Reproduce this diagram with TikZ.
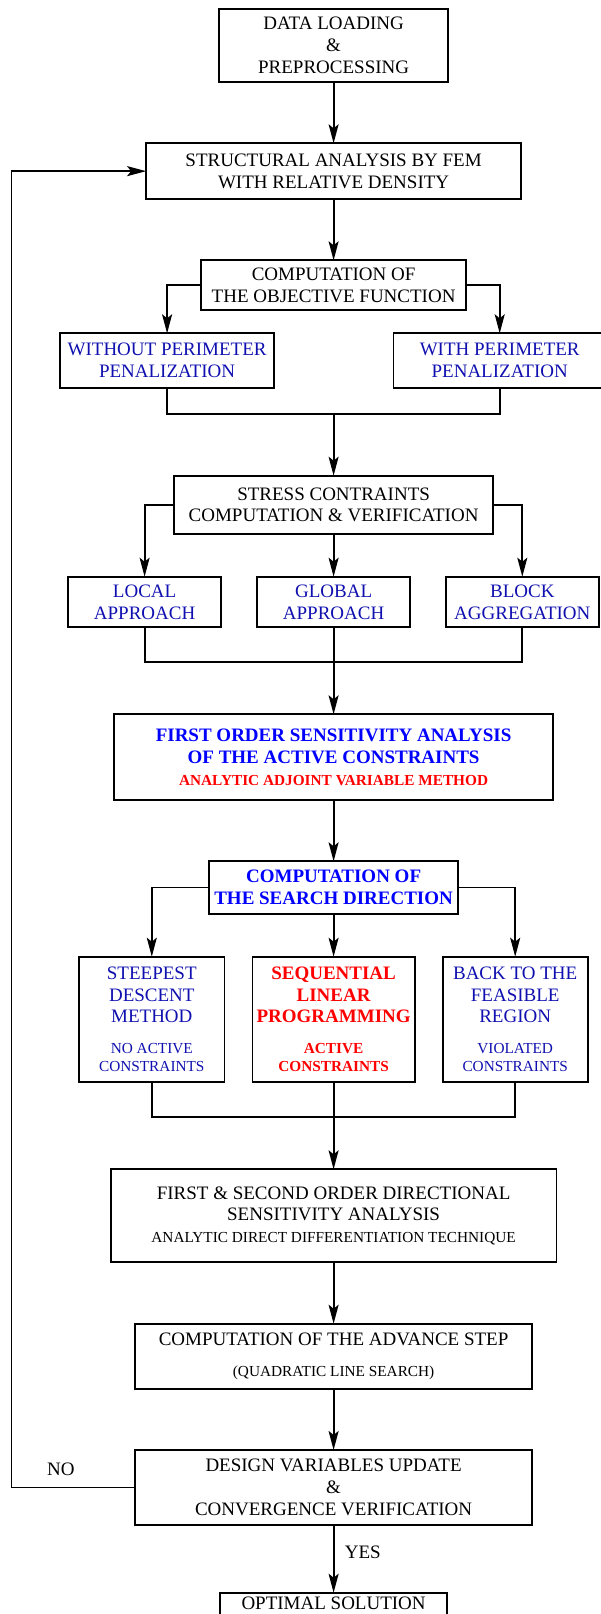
\documentclass[tikz,border=0pt]{standalone}
\usepackage{fontspec}
\setmainfont{Liberation Serif}
\usepackage{tikz}
\usetikzlibrary{arrows.meta,positioning,calc}

\definecolor{txtblue}{RGB}{16,16,176}
\newcommand{\smtxt}{\fontsize{15.3pt}{18.3pt}\selectfont}

\begin{document}
\begin{tikzpicture}[node distance=61.3pt, line width=1.8pt,
    >={Stealth[length=19pt,width=10pt,inset=4pt]},
    box/.style={rectangle, draw, align=center, inner sep=2pt, outer sep=0pt, font=\fontsize{19pt}{21.7pt}\selectfont},
    bluebox/.style={box, text=txtblue},
    boldbox/.style={box, text=blue, font=\fontsize{19pt}{21.7pt}\selectfont\bfseries},
    redbox/.style={box, text=red, font=\fontsize{19pt}{21.7pt}\selectfont\bfseries},
    lbl/.style={font=\fontsize{19pt}{21.7pt}\selectfont},
    ar/.style={->}]
    \useasboundingbox (0,0) rectangle (600pt,-1614pt);

    \node [box, minimum width=229pt, minimum height=73pt] (data) at (333.6pt,-45.5pt) {DATA LOADING\\ \&\\ PREPROCESSING};
    \node [box, below=of data, minimum width=375pt, minimum height=55.7pt] (fem) {STRUCTURAL ANALYSIS BY FEM\\ WITH RELATIVE DENSITY};
    \node [box, below=of fem, minimum width=264.5pt, minimum height=49.4pt] (obj) {COMPUTATION OF\\ THE OBJECTIVE FUNCTION};
    \node [bluebox, below=23.6pt of obj, xshift=-166.5pt, minimum width=214pt, minimum height=54.4pt] (wout) {WITHOUT PERIMETER\\ PENALIZATION};
    \node [bluebox, below=23.6pt of obj, xshift=166.1pt, minimum width=212.6pt, minimum height=54.4pt] (wpen) {WITH PERIMETER\\ PENALIZATION};
    \node [box, below=166pt of obj, minimum width=318.8pt, minimum height=58.3pt] (stress) {STRESS CONTRAINTS\\ COMPUTATION \& VERIFICATION};
    \node [bluebox, below=42.7pt of stress, minimum width=153pt, minimum height=50.6pt] (glob) {GLOBAL\\ APPROACH};
    \node [bluebox, below=42.7pt of stress, xshift=-189pt, minimum width=153pt, minimum height=50.6pt] (local) {LOCAL\\ APPROACH};
    \node [bluebox, below=42.7pt of stress, xshift=188.7pt, minimum width=153pt, minimum height=50.6pt] (block) {BLOCK\\ AGGREGATION};
    \node [boldbox, below=87pt of glob, minimum width=439.4pt, minimum height=85.7pt] (first) {FIRST ORDER SENSITIVITY ANALYSIS\\ OF THE ACTIVE CONSTRAINTS\\ {\color{red}\smtxt ANALYTIC ADJOINT VARIABLE METHOD}};
    \node [boldbox, below=of first, minimum width=248.8pt, minimum height=52.4pt] (search) {COMPUTATION OF\\ THE SEARCH DIRECTION};
    \node [redbox, below=43pt of search, minimum width=162.2pt, minimum height=125.6pt] (seq) {SEQUENTIAL\\ LINEAR\\ PROGRAMMING\\[9pt] {\smtxt ACTIVE}\\[-3.4pt] {\smtxt CONSTRAINTS}};
    \node [bluebox, below=43pt of search, xshift=-181.8pt, minimum width=145.4pt, minimum height=125.6pt] (steep) {STEEPEST\\ DESCENT\\ METHOD\\[9pt] {\smtxt NO ACTIVE}\\[-3.4pt] {\smtxt CONSTRAINTS}};
    \node [bluebox, below=43pt of search, xshift=181.6pt, minimum width=145pt, minimum height=125.6pt] (back) {BACK TO THE\\ FEASIBLE\\ REGION\\[9pt] {\smtxt VIOLATED}\\[-3.4pt] {\smtxt CONSTRAINTS}};
    \node [box, below=87pt of seq, minimum width=445.8pt, minimum height=92.7pt] (second) {FIRST \& SECOND ORDER DIRECTIONAL\\ SENSITIVITY ANALYSIS\\ {\smtxt ANALYTIC DIRECT DIFFERENTIATION TECHNIQUE}};
    \node [box, below=61.7pt of second, minimum width=397pt, minimum height=65.3pt] (adv) {COMPUTATION OF THE ADVANCE STEP\\[9.7pt] {\smtxt (QUADRATIC LINE SEARCH)}};
    \node [box, below=61pt of adv, minimum width=397pt, minimum height=75pt] (design) {DESIGN VARIABLES UPDATE\\ \&\\ CONVERGENCE VERIFICATION};
    \node [box, below=67.7pt of design, minimum width=227pt, inner ysep=4pt, text depth=20pt] (opt) {OPTIMAL SOLUTION};

    \coordinate (j1) at ($(wout.south -| obj.south)+(0,-26.6pt)$);
    \coordinate (j2) at ($(glob.south)+(0,-35pt)$);
    \coordinate (j3) at ($(seq.south)+(0,-34.4pt)$);

    \draw [ar] (data) -- (fem);
    \draw [ar] (fem) -- (obj);
    \draw [ar] (obj.west) -| (wout.north);
    \draw [ar] (obj.east) -| (wpen.north);
    \draw (wout.south) |- (j1) -| (wpen.south);
    \draw [ar] (j1) -- (stress);
    \draw [ar] (stress.west) -| (local.north);
    \draw [ar] (stress) -- (glob);
    \draw [ar] (stress.east) -| (block.north);
    \draw (local.south) |- (j2) -| (block.south);
    \draw [ar] (glob) -- (first);
    \draw [ar] (first) -- (search);
    \draw [ar] (search.west) -| (steep.north);
    \draw [ar] (search) -- (seq);
    \draw [ar] (search.east) -| (back.north);
    \draw (steep.south) |- (j3) -| (back.south);
    \draw [ar] (seq) -- (second);
    \draw [ar] (second) -- (adv);
    \draw [ar] (adv) -- (design);
    \draw [ar] (design) -- node[lbl, right=7pt, pos=0.41]{YES} (opt);
    \draw [ar] (design.west) -- node[lbl, above=8pt, pos=0.6]{NO} ++(-123.6pt,0) |- (fem.west);
\end{tikzpicture}
\end{document}
